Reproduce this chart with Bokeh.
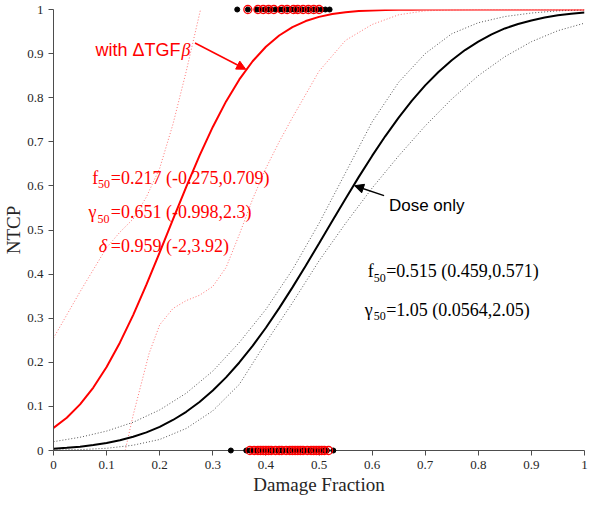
from bokeh.plotting import figure
from bokeh.models import Label, Arrow, NormalHead, FixedTicker, Range1d
from bokeh.embed import file_html
from bokeh.resources import INLINE

# ---------------- data ----------------
fine_x = [0.0, 0.025, 0.05, 0.075, 0.1, 0.125, 0.15, 0.175, 0.2, 0.225, 0.25,
          0.275, 0.3, 0.325, 0.35, 0.375, 0.4, 0.425, 0.45, 0.475, 0.5, 0.525,
          0.55, 0.575, 0.6, 0.625, 0.65, 0.675, 0.7, 0.725, 0.75, 0.775, 0.8,
          0.825, 0.85, 0.875, 0.9, 0.925, 0.95, 0.975, 1.0]

dose_only = [0.0042, 0.0061, 0.0087, 0.0123, 0.0170, 0.0231, 0.0311, 0.0411,
             0.0537, 0.0692, 0.0878, 0.1100, 0.1359, 0.1658, 0.1996, 0.2371,
             0.2783, 0.3228, 0.3699, 0.4190, 0.4694, 0.5204, 0.571, 0.6205,
             0.668, 0.7130, 0.755, 0.7932, 0.828, 0.8584, 0.885, 0.9080,
             0.927, 0.9434, 0.957, 0.9671, 0.975, 0.9819, 0.987, 0.9906, 0.9934]

with_tgf = [0.0513, 0.0744, 0.1046, 0.1428, 0.1894, 0.2445, 0.3071, 0.3761,
            0.4492, 0.5240, 0.598, 0.6687, 0.7337, 0.7916, 0.8414, 0.8826,
            0.9156, 0.9411, 0.9601, 0.9738, 0.9833, 0.9897, 0.9939, 0.9965,
            0.998, 0.9989, 0.9994, 0.9997, 0.9998, 0.9999, 1.0, 1.0, 1.0,
            1.0, 1.0, 1.0, 1.0, 1.0, 1.0, 1.0, 1.0]

ci_x = [0.0, 0.05, 0.1, 0.15, 0.2, 0.25, 0.3, 0.35, 0.4, 0.45, 0.5,
        0.55, 0.6, 0.65, 0.7, 0.75, 0.8, 0.85, 0.9, 0.95, 1.0]
dose_only_upper = [0.020, 0.030, 0.044, 0.064, 0.092, 0.13, 0.18, 0.245, 0.32,
                   0.41, 0.515, 0.63, 0.745, 0.835, 0.90, 0.945, 0.97, 0.984,
                   0.992, 0.997, 0.999]
dose_only_lower = [0.001, 0.002, 0.005, 0.012, 0.025, 0.05, 0.09, 0.15, 0.245,
                   0.335, 0.43, 0.515, 0.595, 0.668, 0.736, 0.797, 0.85, 0.893,
                   0.927, 0.952, 0.969]

tgf_upper_x = [0.0, 0.05, 0.1, 0.125, 0.15, 0.175, 0.2, 0.225, 0.25, 0.275, 0.3]
tgf_upper = [0.255, 0.36, 0.46, 0.495, 0.525, 0.575, 0.64, 0.74, 0.86, 0.99, 1.12]

tgf_lower_x = [0.135, 0.15, 0.165, 0.18, 0.2, 0.225, 0.25, 0.275, 0.3, 0.325,
               0.35, 0.375, 0.4, 0.425, 0.45, 0.5, 0.55, 0.6, 0.65, 0.7, 0.75,
               0.8, 0.9, 1.0]
tgf_lower = [0.0, 0.08, 0.15, 0.22, 0.285, 0.322, 0.34, 0.352, 0.372, 0.415,
             0.49, 0.57, 0.64, 0.70, 0.755, 0.86, 0.93, 0.966, 0.988, 0.997,
             0.999, 1.0, 1.0, 1.0]

# observed outcomes (damage fraction of each patient)
top_black = [0.346, 0.366, 0.383, 0.39, 0.398, 0.405, 0.41, 0.418, 0.425,
             0.432, 0.44, 0.447, 0.453, 0.46, 0.468, 0.475, 0.48, 0.49, 0.497,
             0.505, 0.512, 0.52]
top_red = [0.366, 0.385, 0.395, 0.405, 0.415, 0.43, 0.44, 0.452, 0.46, 0.47,
           0.48, 0.49, 0.5]
bottom_black = [0.334, 0.363, 0.37, 0.375, 0.38, 0.385, 0.39, 0.395, 0.40,
                0.405, 0.41, 0.415, 0.42, 0.425, 0.43, 0.435, 0.44, 0.445,
                0.45, 0.455, 0.46, 0.465, 0.47, 0.475, 0.48, 0.485, 0.49,
                0.495, 0.5, 0.505, 0.51, 0.515, 0.527]
bottom_red = [0.37, 0.378, 0.385, 0.39, 0.395, 0.40, 0.405, 0.41, 0.418, 0.425,
              0.43, 0.438, 0.445, 0.45, 0.455, 0.46, 0.465, 0.47, 0.478, 0.485,
              0.49, 0.495, 0.5, 0.505, 0.51, 0.518]
outcome_yes = 1
outcome_no = 0

ticks = [0, 0.1, 0.2, 0.3, 0.4, 0.5, 0.6, 0.7, 0.8, 0.9, 1]
tick_labels = ["0", "0.1", "0.2", "0.3", "0.4", "0.5", "0.6", "0.7", "0.8", "0.9", "1"]

RED = "#ff0000"
SERIF = "Liberation Serif"
SANS = "Liberation Sans"
AXIS_COL = "#4d4d4d"
TXT_COL = "#262626"

p = figure(width=588, height=497, x_range=Range1d(0, 1), y_range=Range1d(0, 1),
           output_backend="svg", toolbar_location=None,
           min_border_left=50, min_border_right=4, min_border_top=9,
           min_border_bottom=46)
p.grid.visible = False
p.outline_line_color = None
p.background_fill_color = "white"
p.border_fill_color = "white"

for axes in (p.xaxis, p.yaxis):
    axes.ticker = FixedTicker(ticks=ticks)
    axes.major_label_overrides = dict(zip(ticks, tick_labels))
    axes.minor_tick_line_color = None
    axes.major_tick_in = 0
    axes.major_tick_out = 5
    axes.axis_line_color = AXIS_COL
    axes.major_tick_line_color = AXIS_COL
    axes.major_label_text_font = SERIF
    axes.major_label_text_font_size = "13px"
    axes.major_label_text_color = TXT_COL
    axes.axis_label_text_font = SERIF
    axes.axis_label_text_font_size = "19px"
    axes.axis_label_text_font_style = "normal"
    axes.axis_label_text_color = TXT_COL
p.xaxis.major_label_standoff = 5
p.yaxis.major_label_standoff = 5
p.xaxis.axis_label = "Damage Fraction"
p.yaxis.axis_label = "NTCP"
p.xaxis.axis_label_standoff = 2
p.yaxis.axis_label_standoff = 0

# CI curves
p.line(ci_x, dose_only_upper, line_color="#555555", line_width=1, line_dash="1 2")
p.line(ci_x, dose_only_lower, line_color="#555555", line_width=1, line_dash="1 2")
p.line(tgf_upper_x, tgf_upper, line_color=RED, line_alpha=0.55, line_width=1, line_dash="1 2")
p.line(tgf_lower_x, tgf_lower, line_color=RED, line_alpha=0.55, line_width=1, line_dash="1 2")

# fitted curves
p.line(fine_x, dose_only, line_color="black", line_width=2)
p.line(fine_x, with_tgf, line_color=RED, line_width=2)

# observed points
p.scatter(top_black, [outcome_yes] * len(top_black), size=5, color="black", level="overlay")
p.scatter(bottom_black, [outcome_no] * len(bottom_black), size=5, color="black", level="overlay")
p.scatter(top_red, [outcome_yes] * len(top_red), size=8, fill_color=None,
          line_color=RED, line_width=1.3, level="overlay")
p.scatter(bottom_red, [outcome_no] * len(bottom_red), size=8, fill_color=None,
          line_color=RED, line_width=1.3, level="overlay")


def add_text(x, y, text, size, color, font=SERIF, style="normal", align="left",
             baseline="alphabetic"):
    p.add_layout(Label(x=x, y=y, text=text, text_font=font,
                       text_font_size=f"{size}px", text_color=color,
                       text_font_style=style, text_align=align,
                       text_baseline=baseline))


# red parameter block
add_text(0.073, 0.619, "f", 18, RED)
add_text(0.084, 0.605, "50", 12, RED)
add_text(0.108, 0.619, "=0.217 (-0.275,0.709)", 18, RED)
add_text(0.066, 0.541, "γ", 18, RED)
add_text(0.083, 0.526, "50", 12, RED)
add_text(0.108, 0.541, "=0.651 (-0.998,2.3)", 18, RED)
add_text(0.085, 0.463, "δ", 18, RED, style="italic")
add_text(0.108, 0.463, "=0.959 (-2,3.92)", 18, RED)

# black parameter block
add_text(0.592, 0.407, "f", 18, "black")
add_text(0.603, 0.392, "50", 12, "black")
add_text(0.6265, 0.407, "=0.515 (0.459,0.571)", 18, "black")
add_text(0.586, 0.318, "γ", 18, "black")
add_text(0.603, 0.306, "50", 12, "black")
add_text(0.6265, 0.318, "=1.05 (0.0564,2.05)", 18, "black")

# curve annotations
add_text(0.079, 0.909, "with ΔTGF", 18, RED, font=SANS)
add_text(0.241, 0.909, "β", 18, RED, style="italic")
p.add_layout(Arrow(end=NormalHead(size=9, fill_color=RED, line_color=RED),
                   x_start=0.2665, y_start=0.924, x_end=0.362, y_end=0.8645,
                   line_color=RED, line_width=1.5))
add_text(0.6317, 0.556, "Dose only", 17, "black", font=SANS)
p.add_layout(Arrow(end=NormalHead(size=9, fill_color="black", line_color="black"),
                   x_start=0.6225, y_start=0.578, x_end=0.567, y_end=0.6004,
                   line_color="black", line_width=1.5))

open("out.html", "w").write(file_html(p, INLINE))
